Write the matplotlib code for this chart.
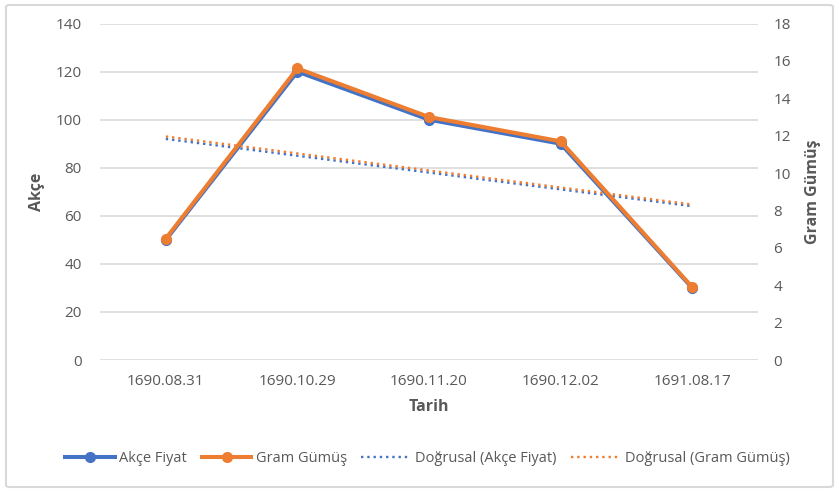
import numpy as np
import matplotlib.pyplot as plt
from matplotlib.patches import FancyBboxPatch
from matplotlib.lines import Line2D

# Data
tarih = ['1690.08.31', '1690.10.29', '1690.11.20', '1690.12.02', '1691.08.17']
akce_fiyat = [50, 120, 100, 90, 30]
gram_gumus = [6.5, 15.6, 13, 11.7, 3.9]

BLUE = '#4472C4'
ORANGE = '#ED7D31'
GRID = '#D9D9D9'
TXT = '#595959'

plt.rcParams['font.family'] = ['Open Sans', 'DejaVu Sans']

fig = plt.figure(figsize=(8.39, 4.91), dpi=100)
ax1 = fig.add_axes([0.1192, 0.2668, 0.7843, 0.6852])
ax2 = ax1.twinx()

x = np.arange(1, len(tarih) + 1)

# Linear trendlines
c1 = np.polyfit(x, akce_fiyat, 1)
c2 = np.polyfit(x, gram_gumus, 1)

ax1.plot(x, np.polyval(c1, x), ':', color=BLUE, lw=1.7, zorder=2)
ax1.plot(x, akce_fiyat, '-o', color=BLUE, lw=2.9, ms=7, zorder=3)
ax2.plot(x, np.polyval(c2, x), ':', color=ORANGE, lw=1.7, zorder=2)
ax2.plot(x, gram_gumus, '-o', color=ORANGE, lw=2.9, ms=7, zorder=3)

ax1.set_xlim(0.5, len(tarih) + 0.5)
ax1.set_ylim(0, 140)
ax2.set_ylim(0, 18)
ax1.set_yticks(np.arange(0, 141, 20))
ax2.set_yticks(np.arange(0, 19, 2))
ax1.set_xticks(x)
ax1.set_xticklabels(tarih)

ax1.grid(axis='y', color=GRID, lw=1.2)
ax1.set_axisbelow(True)
for ax in (ax1, ax2):
    for s in ax.spines.values():
        s.set_visible(False)
    ax.tick_params(length=0, labelsize=11, labelcolor=TXT)
ax1.tick_params(axis='y', pad=13)
ax2.tick_params(axis='y', pad=11)
ax1.tick_params(axis='x', pad=10)

ax1.set_ylabel('Akçe', fontsize=11.5, fontweight='bold', color=TXT, labelpad=8)
ax2.set_ylabel('Gram Gümüş', fontsize=11.5, fontweight='bold', color=TXT, labelpad=10)
ax1.set_xlabel('Tarih', fontsize=11.5, fontweight='bold', color=TXT, labelpad=7)

handles = [
    Line2D([], [], color=BLUE, lw=2.9, marker='o', ms=7),
    Line2D([], [], color=ORANGE, lw=2.9, marker='o', ms=7),
    Line2D([], [], color=BLUE, lw=1.7, ls=':'),
    Line2D([], [], color=ORANGE, lw=1.7, ls=':'),
]
labels = ['Akçe Fiyat', 'Gram Gümüş', 'Doğrusal (Akçe Fiyat)', 'Doğrusal (Gram Gümüş)']
leg = fig.legend(handles, labels, loc='center', bbox_to_anchor=(0.51, 1 - 459 / 491),
                 ncol=4, frameon=False, fontsize=10.5, handlelength=3.4,
                 handletextpad=0.3, columnspacing=1.0)
for t in leg.get_texts():
    t.set_color(TXT)

# outer chart border
fig.patches.append(FancyBboxPatch((6 / 839, 4 / 491), 827 / 839, 482 / 491,
                                  boxstyle='round,pad=0,rounding_size=0.004',
                                  transform=fig.transFigure, fill=False,
                                  ec=GRID, lw=1.5))

fig.savefig('out.png', dpi=100)
